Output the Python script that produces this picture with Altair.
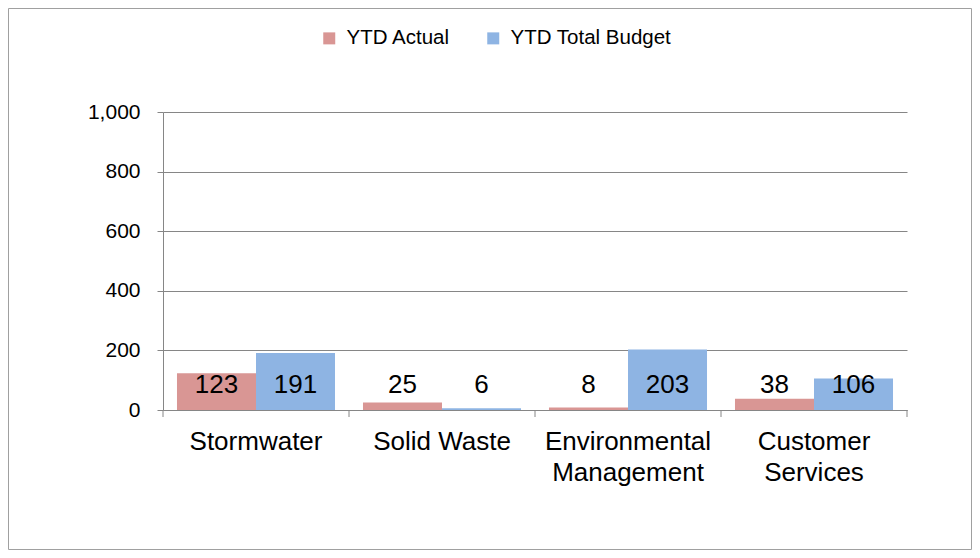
import altair as alt
import pandas as pd

categories = ["Stormwater", "Solid Waste", "Environmental Management", "Customer Services"]
series = ["YTD Actual", "YTD Total Budget"]
ytd_actual = [123, 25, 8, 38]
ytd_budget = [191, 6, 203, 106]
colors = ["#D99694", "#8EB4E3"]
y_ticks = [0, 200, 400, 600, 800, 1000]

rows = []
for c, a, b in zip(categories, ytd_actual, ytd_budget):
    rows.append({"category": c, "series": series[0], "value": a})
    rows.append({"category": c, "series": series[1], "value": b})
df = pd.DataFrame(rows)

FONT = "Liberation Sans"
GRAY = "#868686"
W, H = 744, 298
PL, PT, PR, PB = 155, 104, 65, 140

x_enc = alt.X("category:N", sort=categories,
              scale=alt.Scale(paddingInner=0, paddingOuter=0),
              axis=alt.Axis(title=None, labelAngle=0, ticks=False,
                            labelFontSize=26, labelFont=FONT, labelColor="black",
                            labelPadding=18, labelLineHeight=31,
                            labelExpr="datum.label == 'Solid Waste' ? datum.label : split(datum.label, ' ')",
                            domainColor=GRAY, domainWidth=1))
xoff = alt.XOffset("series:N", sort=series,
                   scale=alt.Scale(paddingInner=0, paddingOuter=0.177))

base = alt.Chart(df)

bars = base.mark_bar().encode(
    x=x_enc,
    xOffset=xoff,
    y=alt.Y("value:Q", scale=alt.Scale(domain=[0, 1000], nice=False),
            axis=alt.Axis(title=None, values=y_ticks, labelExpr="format(datum.value, ',.0f')",
                          labelFontSize=21, labelFont=FONT, labelColor="black",
                          tickSize=6, tickColor=GRAY, labelPadding=17,
                          domainColor=GRAY, gridColor=GRAY, grid=True)),
    color=alt.Color("series:N", sort=series,
                    scale=alt.Scale(domain=series, range=colors),
                    legend=alt.Legend(title=None, orient="none", direction="horizontal",
                                      legendX=156, legendY=-84,
                                      symbolType="square", symbolSize=144,
                                      symbolStrokeWidth=0, labelFontSize=20.5,
                                      labelFont=FONT, labelColor="black", labelLimit=400,
                                      columnPadding=32, labelOffset=7, padding=0)),
)

labels = base.mark_text(fontSize=26, font=FONT, color="black", baseline="middle").encode(
    x=alt.X("category:N", sort=categories),
    xOffset=alt.XOffset("series:N", sort=series),
    y=alt.value(273),
    text=alt.Text("value:Q"),
)

ticks = base.transform_filter(alt.datum.series == series[0]).mark_rule(color=GRAY).encode(
    x=alt.X("category:N", sort=categories, bandPosition=0),
    y=alt.value(H),
    y2=alt.value(H + 7),
)
ticks_end = base.transform_filter(
    (alt.datum.series == series[0]) & (alt.datum.category == categories[-1])
).mark_rule(color=GRAY).encode(
    x=alt.X("category:N", sort=categories, bandPosition=1),
    y=alt.value(H),
    y2=alt.value(H + 7),
)

border = alt.Chart(alt.Data(values=[{}])).mark_rect(fill=None, stroke="#A0A0A0", strokeWidth=1).encode(
    x=alt.value(-PL + 0.5), x2=alt.value(W + PR - 0.5),
    y=alt.value(-PT + 0.5), y2=alt.value(H + PB - 0.5),
)

chart = alt.layer(border, bars, labels, ticks, ticks_end).properties(
    width=W, height=H,
    autosize=alt.AutoSizeParams(type="none"),
    padding={"left": PL, "top": PT, "right": PR, "bottom": PB},
    background="white",
).configure_view(stroke=None)

chart.save("out.html", embed_options={"renderer": "svg", "actions": False})
